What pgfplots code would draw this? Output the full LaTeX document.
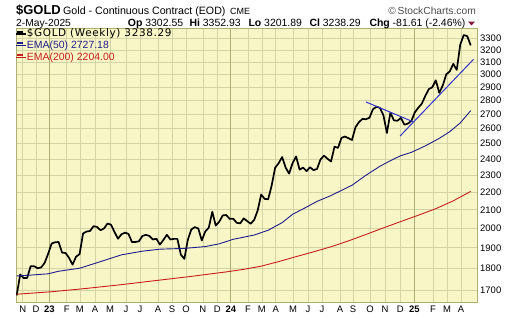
\documentclass[border=0pt]{standalone}
\usepackage{fontspec}
\setmainfont{Liberation Sans}
\newfontfamily\dejavu[LetterSpace=6]{DejaVu Sans}
\usepackage{pgfplots}
\usepackage{pgfplotstable}
\pgfplotsset{compat=1.18}
\definecolor{bg}{RGB}{248,246,198}
\definecolor{gridc}{RGB}{212,212,166}
\definecolor{gridy}{RGB}{172,176,112}
\definecolor{ema50}{RGB}{30,30,140}
\definecolor{ema200}{RGB}{200,30,30}
\definecolor{trend}{RGB}{50,50,205}
\definecolor{tri}{RGB}{130,20,60}

\pgfplotstableread{
i c
0 1676
1 1771
2 1754
3 1755
4 1810
5 1810
6 1800
7 1804
8 1826
9 1870
10 1921
11 1928
12 1929
13 1876
14 1874
15 1850
16 1817
17 1856
18 1868
19 1973
20 1983
21 1986
22 2011
23 2007
24 1990
25 1999
26 2025
27 2019
28 1981
29 1946
30 1969
31 1977
32 1971
33 1929
34 1929
35 1933
36 1960
37 1966
38 1960
39 1942
40 1946
41 1916
42 1940
43 1966
44 1942
45 1945
46 1945
47 1866
48 1845
49 1941
50 1994
51 2006
52 1999
53 1937
54 1984
55 2003
56 2089
57 2014
58 2035
59 2069
60 2071
61 2050
62 2051
63 2029
64 2026
65 2053
66 2038
67 2024
68 2045
69 2096
70 2186
71 2161
72 2159
73 2238
74 2346
75 2374
76 2413
77 2347
78 2310
79 2375
80 2417
81 2334
82 2347
83 2325
84 2349
85 2331
86 2339
87 2398
88 2422
89 2402
90 2385
91 2480
92 2472
93 2538
94 2547
95 2536
96 2524
97 2610
98 2646
99 2668
100 2666
101 2676
102 2737
103 2755
104 2747
105 2694
106 2571
107 2712
108 2658
109 2655
110 2675
111 2628
112 2635
113 2654
114 2715
115 2748
116 2778
117 2835
118 2886
119 2900
120 2954
121 2858
122 2914
123 3001
124 3024
125 3085
126 3036
127 3245
128 3328
129 3319
130 3238.29
}\gold

\pgfplotstableread{
i e
0 1764
4 1768
9 1774
12 1786
18 1800
24 1832
30 1865
36 1883
41 1893
48 1897
54 1906
58 1920
62 1943
68 1965
72 1990
76 2030
79 2075
83 2115
86 2147
90 2180
93 2210
96 2240
100 2300
104 2355
107 2390
110 2422
113 2443
117 2485
121 2535
124 2580
127 2640
130 2727.18
}\emafifty

\pgfplotstableread{
i e
0 1681
10 1692
20 1707
30 1724
40 1743
50 1762
60 1783
65 1795
70 1810
75 1832
80 1856
85 1880
90 1905
95 1935
100 1968
105 2002
110 2036
115 2070
120 2106
125 2150
130 2204
}\ematwo

\begin{document}
\begin{tikzpicture}[x=1bp,y=1bp]
\useasboundingbox (0,0) rectangle (520,318);
\begin{axis}[
  at={(16bp,16bp)}, anchor=south west,
  scale only axis, width=461bp, height=274bp,
  xmin=-0.2, xmax=131.8,
  ymode=log, ymin=1647, ymax=3391,
  enlargelimits=false,
  axis background/.style={fill=bg},
  axis line style={draw=gridy, line width=0.8bp},
  grid=major,
  major grid style={draw=gridc, line width=0.7bp},
  minor y tick num=0,
  major tick length=0pt,
  minor tick length=0pt,
  /pgf/number format/assume math mode=true,
  tick label style={font=\fontsize{9.5}{10}\selectfont, text=black},
  xtick={1.72,5.53,14.3,18.1,22.4,26.7,31.3,35.3,40.5,44.5,48.5,53.3,57.4,66.2,70.2,74.2,79.1,83.4,87.4,92.6,96.3,101.2,105.5,109.8,119.2,123.2,127.2},
  xticklabels={N,D,F,M,A,M,J,J,A,S,O,N,D,F,M,A,M,J,J,A,S,O,N,D,F,M,A},
  extra x ticks={9.34,61.3,113.9},
  extra x tick labels={\textbf{23},\textbf{24},\textbf{25}},
  extra x tick style={major grid style={draw=gridy, line width=0.8bp}},
  xticklabel style={anchor=north, inner sep=0pt, yshift=-4bp},
  ytick={1700,1800,1900,2000,2100,2200,2300,2400,2500,2600,2700,2800,2900,3000,3100,3200,3300},
  yticklabels={1700,1800,1900,2000,2100,2200,2300,2400,2500,2600,2700,2800,2900,3000,3100,3200,3300},
  yticklabel pos=right,
  yticklabel style={anchor=west, inner sep=0pt, xshift=3bp},
  legend style={at={(axis description cs:0,1)}, anchor=north west, xshift=-1bp, draw=none, fill=none,
    inner sep=0pt, row sep=0pt, column sep=0pt,
    nodes={inner sep=0pt, text height=8.5bp, text depth=3.3bp}},
  legend cell align=left,
  legend image code/.code={\path (-1bp,0bp) -- (9bp,0bp); \draw[#1, line width=2bp, line cap=butt] (0bp,2.5bp) -- (6bp,2.5bp);},
]
\addplot[black, line width=1.7bp, line join=round] table[x=i,y=c] {\gold};
\addlegendentry{\dejavu\fontsize{10.5}{11}\selectfont \$GOLD (Weekly) 3238.29}
\addplot[ema50, line width=0.9bp] table[x=i,y=e] {\emafifty};
\addlegendentry{\fontsize{10.5}{11}\selectfont\textcolor{ema50}{EMA(50) 2727.18}}
\addplot[ema200, line width=0.9bp] table[x=i,y=e] {\ematwo};
\addlegendentry{\fontsize{10.5}{11}\selectfont\textcolor{ema200}{EMA(200) 2204.00}}
\addplot[trend, line width=1bp, forget plot] coordinates {(100.0,2790) (113.6,2647)};
\addplot[trend, line width=1bp, forget plot] coordinates {(109.8,2551) (130.8,3122)};
\end{axis}
\tikzset{hdr/.style={inner sep=0pt, anchor=base west}}
\node[hdr, font=\fontsize{13}{13}\selectfont\bfseries] at (16,304) {\$GOLD};
\node[hdr, font=\fontsize{10.7}{11}\selectfont] at (63,304) {Gold - Continuous Contract (EOD)};
\node[hdr, font=\fontsize{9}{9}\selectfont] at (230,304) {CME};
\node[inner sep=0pt, anchor=base east, font=\fontsize{10.3}{11}\selectfont, text=black!70] at (476,304) {\textcopyright\,StockCharts.com};
\node[hdr, font=\fontsize{10.3}{11}\selectfont] at (16,292) {2-May-2025};
\node[hdr, font=\fontsize{10.5}{11}\selectfont] at (127.7,292) {\textbf{Op} 3302.55};
\node[hdr, font=\fontsize{10.5}{11}\selectfont] at (189.3,292) {\textbf{Hi} 3352.93};
\node[hdr, font=\fontsize{10.5}{11}\selectfont] at (248.3,292) {\textbf{Lo} 3201.89};
\node[hdr, font=\fontsize{10.5}{11}\selectfont] at (309.3,292) {\textbf{Cl} 3238.29};
\node[hdr, font=\fontsize{10.5}{11}\selectfont] at (369.3,292) {\textbf{Chg} -81.61 (-2.46\%)};
\fill[tri] (468,296.5) -- (475,296.5) -- (471.5,292.5) -- cycle;
\end{tikzpicture}
\end{document}
